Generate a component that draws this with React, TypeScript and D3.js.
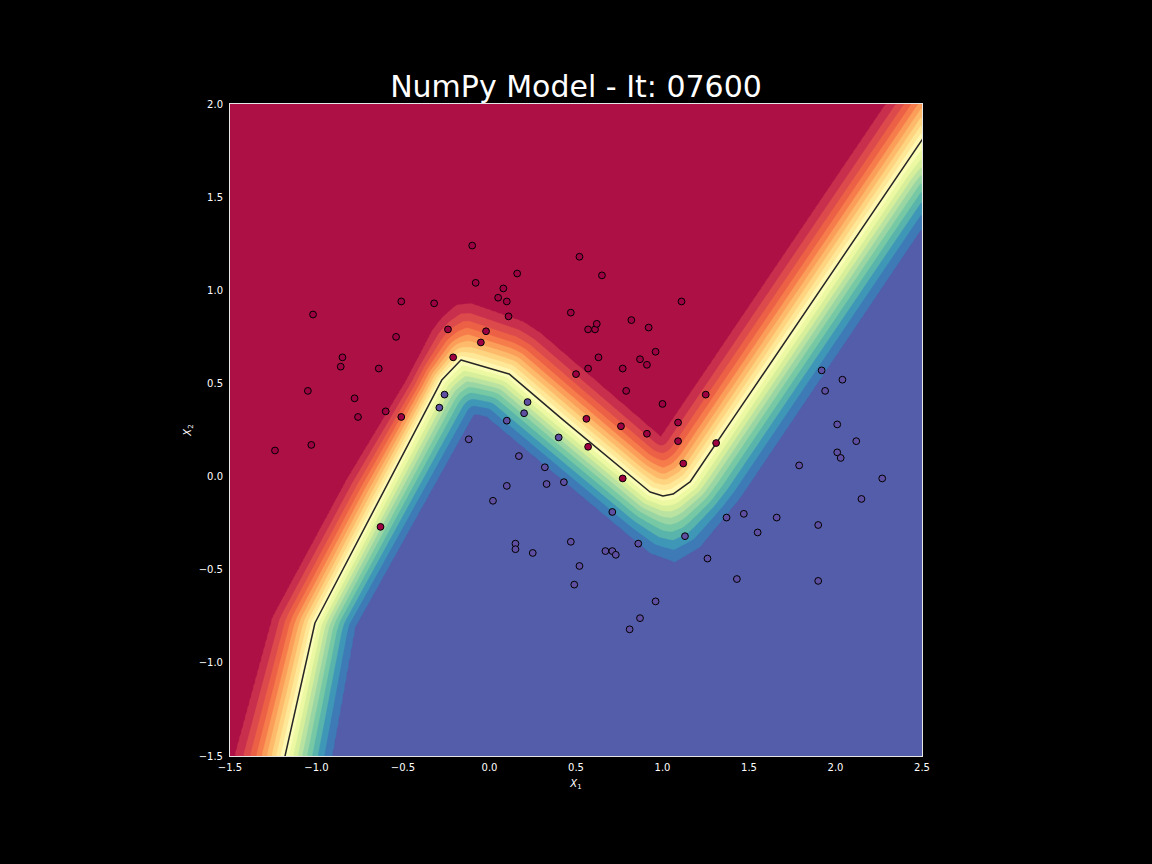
import React, { useMemo } from "react";
import * as d3 from "d3";

const WIDTH = 1152;
const HEIGHT = 864;
const PLOT = { left: 230, top: 104, right: 922, bottom: 756 };

const titleText = "NumPy Model - It: 07600";
const xDomain: [number, number] = [-1.5, 2.5];
const yDomain: [number, number] = [-1.5, 2.0];
const xTickValues = [-1.5, -1.0, -0.5, 0.0, 0.5, 1.0, 1.5, 2.0, 2.5];
const yTickValues = [-1.5, -1.0, -0.5, 0.0, 0.5, 1.0, 1.5, 2.0];

// filled contour levels (probability of class 1)
const contourLevels = [
  0.0, 0.05, 0.1, 0.15, 0.2, 0.25, 0.3, 0.35, 0.4, 0.45, 0.5,
  0.55, 0.6, 0.65, 0.7, 0.75, 0.8, 0.85, 0.9, 0.95, 1.0,
];

// matplotlib "Spectral" colormap anchors
const spectralColors = [
  "#9e0142", "#d53e4f", "#f46d43", "#fdae61", "#fee08b", "#ffffbf",
  "#e6f598", "#abdda4", "#66c2a5", "#3288bd", "#5e4fa2",
];

// decision boundary (p = 0.5) (data coords)
const decisionBoundary: [number, number][] = [
  [-1.211, -1.62], [-1.009, -0.786], [-0.276, 0.518], [-0.165, 0.626],
  [0.113, 0.551], [0.425, 0.304], [0.928, -0.083], [1.003, -0.104],
  [1.061, -0.094], [1.159, -0.029], [1.402, 0.304], [2.5, 1.807], [2.6, 1.944],
];

// outer edge of the red bands (p = 0.05)
const redEdge: [number, number][] = [
  [-1.506, -1.62], [-1.471, -1.5], [-1.251, -0.754], [-0.824, -0.018],
  [-0.477, 0.518], [-0.327, 0.787], [-0.269, 0.857], [-0.188, 0.921],
  [-0.101, 0.926], [0.194, 0.83], [0.292, 0.771], [0.991, 0.212],
  [2.292, 2.0], [2.438, 2.2],
];

// outer edge of the blue bands (p = 0.95)
const blueEdge: [number, number][] = [
  [-0.934, -1.62], [-0.91, -1.5], [-0.777, -0.808], [-0.09, 0.336],
  [-0.02, 0.325], [0.928, -0.41], [1.072, -0.459], [1.217, -0.378],
  [1.448, -0.115], [2.5, 1.334], [2.6, 1.471],
];

const class0Points: [number, number][] = [
  [-1.24, 0.14], [-1.03, 0.17], [-1.02, 0.87], [-1.05, 0.46], [-0.85, 0.64],
  [-0.86, 0.59], [-0.78, 0.42], [-0.76, 0.32], [-0.64, 0.58], [-0.6, 0.35],
  [-0.54, 0.75], [-0.51, 0.94], [-0.51, 0.32], [-0.32, 0.93], [-0.24, 0.79],
  [-0.21, 0.64], [-0.1, 1.24], [-0.08, 1.04], [-0.02, 0.78], [-0.05, 0.72],
  [0.05, 0.96], [0.08, 1.01], [0.1, 0.94], [0.11, 0.86], [0.16, 1.09],
  [0.52, 1.18], [0.65, 1.08], [1.11, 0.94], [0.47, 0.88], [0.82, 0.84],
  [0.92, 0.8], [0.57, 0.79], [0.61, 0.79], [0.62, 0.82], [0.96, 0.67],
  [0.63, 0.64], [0.87, 0.63], [0.91, 0.6], [0.57, 0.58], [0.77, 0.58],
  [0.5, 0.55], [0.79, 0.46], [1.25, 0.44], [1.0, 0.39], [0.56, 0.31],
  [0.76, 0.27], [1.09, 0.29], [0.91, 0.23], [1.09, 0.19], [1.31, 0.18],
  [0.57, 0.16], [1.12, 0.07], [0.77, -0.01], [-0.63, -0.27],
];

const class1Points: [number, number][] = [
  [-0.26, 0.44], [-0.29, 0.37], [-0.12, 0.2], [0.22, 0.4], [0.2, 0.34],
  [0.1, 0.3], [0.4, 0.21], [0.17, 0.11], [0.32, 0.05], [0.1, -0.05],
  [0.33, -0.04], [0.43, -0.03], [0.02, -0.13], [0.71, -0.19], [0.15, -0.36],
  [0.15, -0.39], [0.25, -0.41], [0.47, -0.35], [0.67, -0.4], [0.71, -0.4],
  [0.73, -0.42], [0.86, -0.36], [0.52, -0.48], [0.49, -0.58], [0.96, -0.67],
  [0.87, -0.76], [0.81, -0.82], [1.13, -0.32], [1.26, -0.44], [1.37, -0.22],
  [1.43, -0.55], [1.92, 0.57], [2.04, 0.52], [1.94, 0.46], [2.01, 0.28],
  [2.12, 0.19], [2.01, 0.13], [2.03, 0.1], [1.79, 0.06], [2.27, -0.01],
  [2.15, -0.12], [1.47, -0.2], [1.66, -0.22], [1.55, -0.3], [1.9, -0.26],
  [1.9, -0.56],
];

const FONT = "DejaVu Sans, Verdana, sans-serif";

const cmap = d3
  .scaleLinear<string>()
  .domain(spectralColors.map((_, i) => i / (spectralColors.length - 1)))
  .range(spectralColors)
  .interpolate(d3.interpolateRgb)
  .clamp(true);

function distToPolyline(px: number, py: number, pts: number[][]): number {
  let best = Infinity;
  for (let k = 0; k < pts.length - 1; k++) {
    const ax = pts[k][0], ay = pts[k][1];
    const vx = pts[k + 1][0] - ax, vy = pts[k + 1][1] - ay;
    const wx = px - ax, wy = py - ay;
    let t = (wx * vx + wy * vy) / (vx * vx + vy * vy);
    t = t < 0 ? 0 : t > 1 ? 1 : t;
    const dx = wx - t * vx, dy = wy - t * vy;
    const d = dx * dx + dy * dy;
    if (d < best) best = d;
  }
  return Math.sqrt(best);
}

function upperLeftPolygon(pts: number[][]): [number, number][] {
  const f = pts[0], l = pts[pts.length - 1];
  return [
    ...pts.map((p) => [p[0], p[1]] as [number, number]),
    [l[0], -5000], [-5000, -5000], [-5000, 5000], [f[0], 5000],
  ];
}

export default function App() {
  const xScale = d3.scaleLinear().domain(xDomain).range([PLOT.left, PLOT.right]);
  const yScale = d3.scaleLinear().domain(yDomain).range([PLOT.bottom, PLOT.top]);

  const bands = useMemo(() => {
    const toPx = (pts: [number, number][]) => pts.map(([x, y]) => [xScale(x), yScale(y)]);
    const B = toPx(decisionBoundary);
    const R = toPx(redEdge);
    const U = toPx(blueEdge);
    const polyB = upperLeftPolygon(B);
    const polyR = upperLeftPolygon(R);
    const polyU = upperLeftPolygon(U);
    const step = 2;
    const nx = Math.round((PLOT.right - PLOT.left) / step);
    const ny = Math.round((PLOT.bottom - PLOT.top) / step);
    const values: number[] = new Array(nx * ny);
    const k = 0.9;
    const tk = Math.tanh(k);
    const g = (t: number) => Math.tanh(k * t) / tk;
    for (let j = 0; j < ny; j++) {
      const py = PLOT.top + (j + 0.5) * step;
      for (let i = 0; i < nx; i++) {
        const px = PLOT.left + (i + 0.5) * step;
        const p: [number, number] = [px, py];
        let v: number;
        if (d3.polygonContains(polyB, p)) {
          if (d3.polygonContains(polyR, p)) {
            const dE = distToPolyline(px, py, R);
            v = 0.05 - 0.05 * Math.min(1, dE / 30);
          } else {
            const dB = distToPolyline(px, py, B);
            const dE = distToPolyline(px, py, R);
            const t = dB / (dB + dE + 1e-9);
            v = 0.5 - 0.45 * g(t);
          }
        } else {
          if (!d3.polygonContains(polyU, p)) {
            const dE = distToPolyline(px, py, U);
            v = 0.95 + 0.05 * Math.min(1, dE / 30);
          } else {
            const dB = distToPolyline(px, py, B);
            const dE = distToPolyline(px, py, U);
            const t = dB / (dB + dE + 1e-9);
            v = 0.5 + 0.45 * g(t);
          }
        }
        values[j * nx + i] = Math.max(0, Math.min(1, v));
      }
    }
    const thresholds = contourLevels.slice(1, -1);
    const contours = d3.contours().size([nx, ny]).thresholds(thresholds)(values);
    const path = d3.geoPath(d3.geoIdentity().scale(step).translate([PLOT.left, PLOT.top]));
    return contours.map((c, idx) => ({
      d: path(c as any) || "",
      color: cmap((contourLevels[idx + 1] + contourLevels[idx + 2]) / 2),
    }));
  }, []);

  const baseColor = cmap((contourLevels[0] + contourLevels[1]) / 2);
  const line = d3
    .line<[number, number]>()
    .x((d) => xScale(d[0]))
    .y((d) => yScale(d[1]));
  const fmt = d3.format(".1f");
  const plotW = PLOT.right - PLOT.left;
  const plotH = PLOT.bottom - PLOT.top;

  return (
    <svg
      width={WIDTH}
      height={HEIGHT}
      style={{ position: "absolute", left: 0, top: 0, display: "block", background: "#000" }}
    >
      <defs>
        <clipPath id="plotClip">
          <rect x={PLOT.left} y={PLOT.top} width={plotW} height={plotH} />
        </clipPath>
      </defs>
      <rect x={0} y={0} width={WIDTH} height={HEIGHT} fill="#000" />
      <g clipPath="url(#plotClip)">
        <rect x={PLOT.left} y={PLOT.top} width={plotW} height={plotH} fill={baseColor} />
        {bands.map((b, i) => (
          <path key={i} d={b.d} fill={b.color} stroke={b.color} strokeWidth={0.3} />
        ))}
        <path
          d={line(decisionBoundary) || ""}
          fill="none"
          stroke="#262626"
          strokeWidth={1.5}
          strokeLinejoin="round"
        />
        {class0Points.map((p, i) => (
          <circle
            key={"a" + i}
            cx={xScale(p[0])}
            cy={yScale(p[1])}
            r={3.4}
            fill={cmap(0)}
            stroke="#000"
            strokeWidth={1}
          />
        ))}
        {class1Points.map((p, i) => (
          <circle
            key={"b" + i}
            cx={xScale(p[0])}
            cy={yScale(p[1])}
            r={3.4}
            fill={cmap(1)}
            stroke="#000"
            strokeWidth={1}
          />
        ))}
      </g>
      <rect
        x={PLOT.left - 0.5}
        y={PLOT.top - 0.5}
        width={plotW + 1}
        height={plotH + 1}
        fill="none"
        stroke="#e6e6e6"
        strokeWidth={1}
      />
      <text
        x={(PLOT.left + PLOT.right) / 2}
        y={97}
        textAnchor="middle"
        fontFamily={FONT}
        fontSize={30}
        fill="#fff"
      >
        {titleText}
      </text>
      {xTickValues.map((v) => (
        <text
          key={"x" + v}
          x={xScale(v)}
          y={771}
          textAnchor="middle"
          fontFamily={FONT}
          fontSize={10}
          fill="#fff"
        >
          {fmt(v)}
        </text>
      ))}
      {yTickValues.map((v) => (
        <text
          key={"y" + v}
          x={223}
          y={yScale(v) + 3.6}
          textAnchor="end"
          fontFamily={FONT}
          fontSize={10}
          fill="#fff"
        >
          {fmt(v)}
        </text>
      ))}
      <text
        x={(PLOT.left + PLOT.right) / 2}
        y={787}
        textAnchor="middle"
        fontFamily={FONT}
        fontSize={10}
        fill="#fff"
      >
        <tspan fontStyle="italic">X</tspan>
        <tspan fontSize={7} dy={2}>1</tspan>
      </text>
      <text
        transform={`translate(191, ${(PLOT.top + PLOT.bottom) / 2}) rotate(-90)`}
        textAnchor="middle"
        fontFamily={FONT}
        fontSize={10}
        fill="#fff"
      >
        <tspan fontStyle="italic">X</tspan>
        <tspan fontSize={7} dy={2}>2</tspan>
      </text>
    </svg>
  );
}
